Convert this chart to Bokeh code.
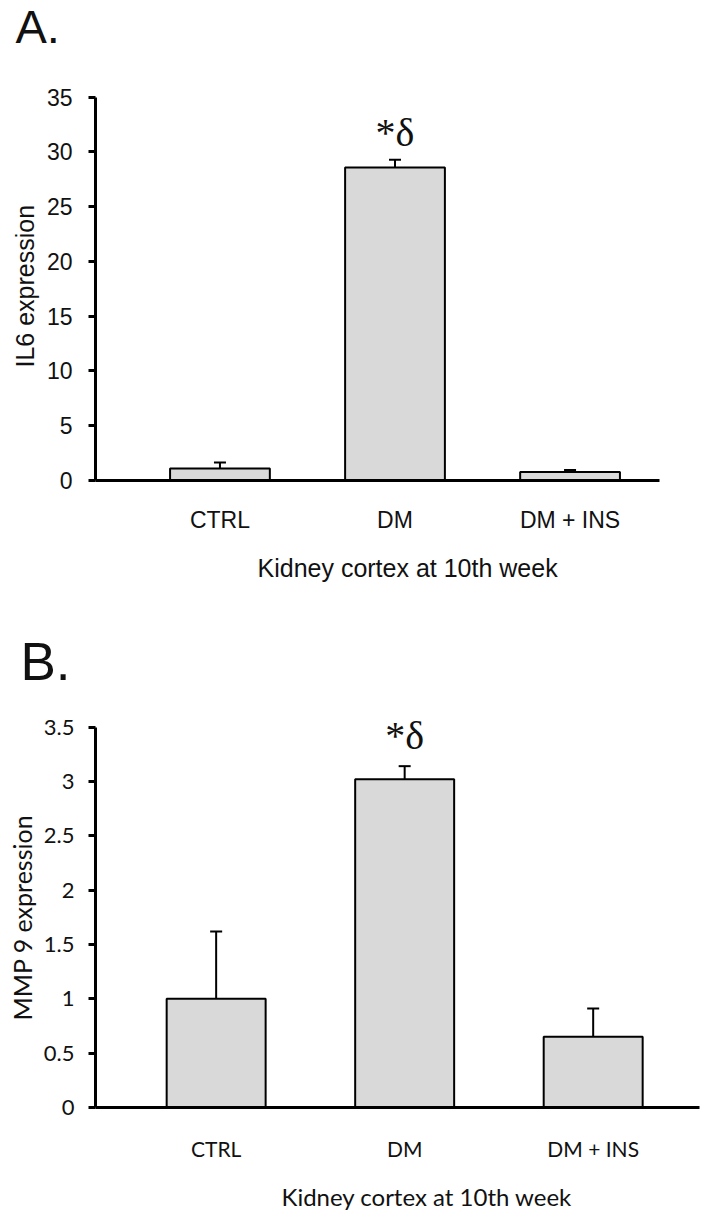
from bokeh.plotting import figure
from bokeh.models import (Range1d, FixedTicker, Whisker, TeeHead, ColumnDataSource,
                          NumeralTickFormatter, Title)
from bokeh.layouts import column
from bokeh.embed import file_html
from bokeh.resources import INLINE
from bokeh.core.properties import value

# ---------------- data ----------------
categories = ["CTRL", "DM", "DM + INS"]
il6_mean = [1.10, 28.57, 0.77]
il6_err = [0.54, 0.71, 0.18]
mmp9_mean = [1.00, 3.02, 0.65]
mmp9_err = [0.62, 0.12, 0.26]
il6_ticks = [0, 5, 10, 15, 20, 25, 30, 35]
mmp9_ticks = [0, 0.5, 1, 1.5, 2, 2.5, 3, 3.5]
sig_labels = ["", "*\u03b4", ""]
x_title = "Kidney cortex at 10th week"
il6_title = "IL6 expression"
mmp9_title = "MMP 9 expression"


def make_panel(mean, err, ticks, ylabel, letter, cfg):
    xs = list(range(len(categories)))
    upper = [m + e for m, e in zip(mean, err)]
    src = ColumnDataSource(dict(x=xs, top=mean, upper=upper, label=sig_labels))
    p = figure(frame_width=cfg["fw"], frame_height=cfg["fh"], output_backend="svg",
               toolbar_location=None,
               x_range=Range1d(*cfg["xr"]), y_range=Range1d(*cfg["yr"]),
               min_border_left=cfg["bl"], min_border_right=cfg["br"],
               min_border_top=cfg["bt"], min_border_bottom=cfg["bb"])
    p.outline_line_color = None
    p.grid.visible = False

    p.title.text = letter
    p.title.text_font = "Liberation Sans"
    p.title.text_font_size = cfg["letfs"]
    p.title.text_font_style = "normal"
    p.title.text_color = "#111111"
    p.title.align = "left"
    p.title.offset = cfg["toff"]
    p.title.standoff = cfg["tst"]

    p.vbar(x="x", top="top", width=cfg["bw"], source=src, fill_color="#d9d9d9",
           line_color="black", line_width=2)
    p.add_layout(Whisker(base="x", lower="top", upper="upper", source=src, dimension="height",
                         line_color="black", line_width=2, lower_head=None,
                         upper_head=TeeHead(size=12, line_color="black", line_width=2)))
    p.text(x="x", y="upper", text="label", source=src, text_font=value("Liberation Serif"),
           text_font_size="40px", text_align="center", text_baseline="alphabetic",
           y_offset=cfg["soff"], text_color="#111111")

    # x axis
    xa = p.xaxis[0]
    xa.ticker = FixedTicker(ticks=xs)
    xa.major_label_overrides = {i: c for i, c in enumerate(categories)}
    xa.major_tick_line_color = None
    xa.minor_tick_line_color = None
    xa.major_tick_out = 0
    xa.major_tick_in = 0
    xa.axis_line_width = 3
    xa.axis_line_color = "black"
    xa.major_label_standoff = cfg["xls"]
    xa.major_label_text_font = cfg["font"]
    xa.major_label_text_font_size = cfg["catfs"]
    xa.major_label_text_color = "#111111"

    # y axis
    ya = p.yaxis[0]
    ya.ticker = FixedTicker(ticks=ticks)
    ya.bounds = (cfg["ybot"], ticks[-1])
    ya.minor_tick_line_color = None
    ya.major_tick_out = 7
    ya.major_tick_in = 0
    ya.major_tick_line_width = 3
    ya.axis_line_width = 3
    ya.axis_line_color = "black"
    ya.major_label_standoff = cfg["yls"]
    ya.major_label_text_font = cfg["font"]
    ya.major_label_text_font_size = cfg["tickfs"]
    ya.major_label_text_color = "#111111"
    if cfg.get("fmt"):
        ya.formatter = NumeralTickFormatter(format=cfg["fmt"])

    # axis titles as offset titles (the reference centres them off the frame centre)
    if cfg["spacer"]:
        p.add_layout(Title(text=" ", text_font_size="10px", standoff=cfg["spacer"]), "below")
    p.add_layout(Title(text=x_title, align="left", offset=cfg["xto"], standoff=cfg["xts"],
                       text_font=cfg["font"], text_font_size=cfg["titlefs"],
                       text_font_style="normal", text_color="#111111"), "below")
    p.add_layout(Title(text=ylabel, align="left", offset=cfg["yto"], standoff=cfg["yts"],
                       text_font=cfg["font"], text_font_size=cfg["ylabfs"],
                       text_font_style="normal", text_color="#111111"), "left")
    return p


cfgA = dict(fw=564, fh=431, xr=(-0.711, 2.511), yr=(0, 39.35), ybot=-0.575,
            bl=89, br=45, bt=42, bb=139,
            bw=0.57, font="Liberation Sans", catfs="23px", titlefs="25px", tickfs="23px",
            ylabfs="25px", xls=26, xts=32, yls=16, yts=9, xto=162, yto=113, spacer=0,
            letfs="47px", toff=-80, tst=-6, soff=-27)
cfgB = dict(fw=604, fh=407, xr=(-0.640, 2.564), yr=(0, 3.744), ybot=-0.071,
            bl=92, br=2, bt=80, bb=99,
            bw=0.525, font="Lato", catfs="21px", titlefs="24px", tickfs="22px",
            ylabfs="25px", xls=28, xts=0, yls=14, yts=8, xto=186, yto=87, fmt="0.[0]",
            spacer=3, letfs="53px", toff=-75, tst=20, soff=-31)

pA = make_panel(il6_mean, il6_err, il6_ticks, il6_title, "A.", cfgA)
pB = make_panel(mmp9_mean, mmp9_err, mmp9_ticks, mmp9_title, "B.", cfgB)

layout = column(pA, pB)
open("out.html", "w").write(file_html(layout, INLINE))
